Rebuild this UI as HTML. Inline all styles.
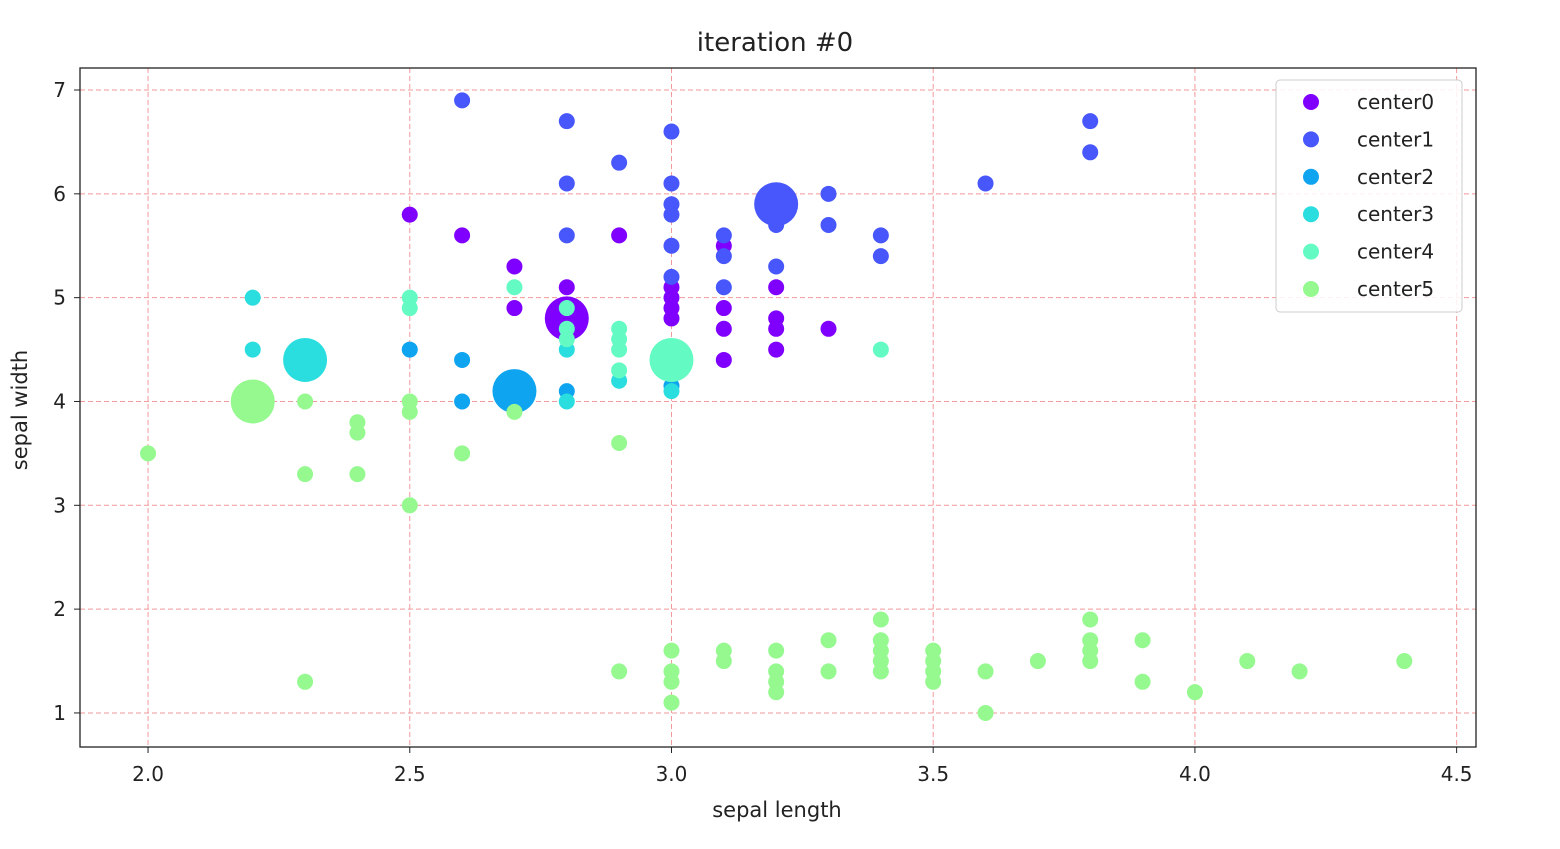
<!DOCTYPE html>
<html><head><meta charset="utf-8"><style>
body{margin:0;background:#fff;width:1560px;height:844px;overflow:hidden}
svg text{font-family:"DejaVu Sans","Liberation Sans",sans-serif;fill:#222}
</style></head><body>
<svg id="chart" width="1560" height="844" xmlns="http://www.w3.org/2000/svg">
<text x="775" y="51" font-size="26" text-anchor="middle">iteration #0</text>
<g id="grid"></g><g id="pts"></g><g id="axes"></g><g id="legend"></g>
</svg>
<script>
const xTicks=[2.0,2.5,3.0,3.5,4.0,4.5];
const yTicks=[1,2,3,4,5,6,7];
const colors=["#8000ff","#4757fb","#0ea4f0","#2addde","#63fbc3","#95f98f"];
const names=["center0","center1","center2","center3","center4","center5"];
const c0x=[2.5,2.6,2.7,2.7,2.8,2.9,3.0,3.0,3.0,3.0,3.1,3.1,3.1,3.1,3.2,3.2,3.2,3.2,3.3];
const c0y=[5.8,5.6,5.3,4.9,5.1,5.6,5.0,4.9,4.8,5.1,4.9,4.7,4.4,5.5,5.1,4.8,4.7,4.5,4.7];
const c1x=[2.6,2.8,2.8,2.8,2.9,3.0,3.0,3.0,3.0,3.0,3.0,3.1,3.1,3.1,3.2,3.2,3.3,3.3,3.4,3.4,3.6,3.8,3.8];
const c1y=[6.9,6.7,6.1,5.6,6.3,6.6,6.1,5.9,5.8,5.5,5.2,5.6,5.4,5.1,5.7,5.3,6.0,5.7,5.6,5.4,6.1,6.7,6.4];
const c2x=[2.5,2.6,2.6,2.8,3.0];
const c2y=[4.5,4.4,4.0,4.1,4.15];
const c3x=[2.2,2.2,2.8,2.8,2.9,3.0];
const c3y=[5.0,4.5,4.5,4.0,4.2,4.1];
const c4x=[2.5,2.5,2.7,2.8,2.8,2.8,2.9,2.9,2.9,2.9,3.4];
const c4y=[5.0,4.9,5.1,4.9,4.7,4.6,4.7,4.6,4.5,4.3,4.5];
const c5x=[2.0,2.3,2.3,2.4,2.4,2.4,2.5,2.5,2.5,2.6,2.7,2.9,2.3,2.9,3.0,3.0,3.0,3.0,3.1,3.1,3.2,3.2,3.2,3.2,3.3,3.3,3.4,3.4,3.4,3.4,3.4,3.5,3.5,3.5,3.5,3.6,3.6,3.7,3.8,3.8,3.8,3.8,3.9,3.9,4.0,4.1,4.2,4.4];
const c5y=[3.5,4.0,3.3,3.8,3.7,3.3,4.0,3.9,3.0,3.5,3.9,3.6,1.3,1.4,1.6,1.4,1.3,1.1,1.6,1.5,1.6,1.4,1.3,1.2,1.7,1.4,1.9,1.7,1.6,1.5,1.4,1.6,1.5,1.4,1.3,1.4,1.0,1.5,1.9,1.7,1.6,1.5,1.7,1.3,1.2,1.5,1.4,1.5];
const centerX=[2.8,3.2,2.7,2.3,3.0,2.2];
const centerY=[4.8,5.9,4.1,4.4,4.4,4.0];
const L=80,R=1476,T=68,B=747,X0=1.87,X1=4.537,Y0=0.672,Y1=7.212;
const sx=v=>L+(v-X0)/(X1-X0)*(R-L), sy=v=>B-(v-Y0)/(Y1-Y0)*(B-T);
const NS="http://www.w3.org/2000/svg";
function mk(tag,attrs,parent){const e=document.createElementNS(NS,tag);for(const k in attrs)e.setAttribute(k,attrs[k]);parent.appendChild(e);return e;}
const grid=document.getElementById('grid'),pts=document.getElementById('pts'),axes=document.getElementById('axes'),leg=document.getElementById('legend');
xTicks.forEach(t=>{const x=sx(t);
 const g=mk('line',{x1:x,x2:x,y1:T,y2:B,stroke:"#f08080",'stroke-width':1,'stroke-dasharray':"5,3",opacity:0.8},grid);
 
 mk('line',{x1:x,x2:x,y1:B,y2:B+6,stroke:"#222"},axes);
 const tx=mk('text',{x:x,y:B+34,'font-size':20,'text-anchor':'middle'},axes);tx.textContent=t.toFixed(1);
 });
yTicks.forEach(t=>{const y=sy(t);
 const g=mk('line',{x1:L,x2:R,y1:y,y2:y,stroke:"#f08080",'stroke-width':1,'stroke-dasharray':"5,3",opacity:0.8},grid);
 
 mk('line',{x1:L-6,x2:L,y1:y,y2:y,stroke:"#222"},axes);
 const tx=mk('text',{x:L-14,y:y+7,'font-size':20,'text-anchor':'end'},axes);tx.textContent=t;
 });
const fr=mk('rect',{x:L,y:T,width:R-L,height:B-T,fill:"none",stroke:"#222",'stroke-width':1.3},axes);

const xl=mk('text',{x:777,y:817,'font-size':21,'text-anchor':'middle'},axes);xl.textContent="sepal length";

const yl=mk('text',{x:27,y:410,'font-size':21,'text-anchor':'middle',transform:"rotate(-90 27 410)"},axes);yl.textContent="sepal width";

const XS=[c0x,c1x,c2x,c3x,c4x,c5x],YS=[c0y,c1y,c2y,c3y,c4y,c5y];
for(let k=0;k<6;k++){
 XS[k].forEach((v,i)=>{const c=mk('circle',{cx:sx(v),cy:sy(YS[k][i]),r:8,fill:colors[k]},pts);
  });
 const c=mk('circle',{cx:sx(centerX[k]),cy:sy(centerY[k]),r:22,fill:colors[k]},pts);
 
}
const lb=mk('rect',{x:1276,y:80,width:186,height:232,rx:4,fill:"#fff",'fill-opacity':0.85,stroke:"#ccc"},leg);

names.forEach((n,i)=>{const y=102+i*37.4;
 const c=mk('circle',{cx:1311,cy:y,r:8,fill:colors[i]},leg);
 
 const t=mk('text',{x:1357,y:y+7,'font-size':20},leg);t.textContent=n;
 });
</script>
</body></html>
